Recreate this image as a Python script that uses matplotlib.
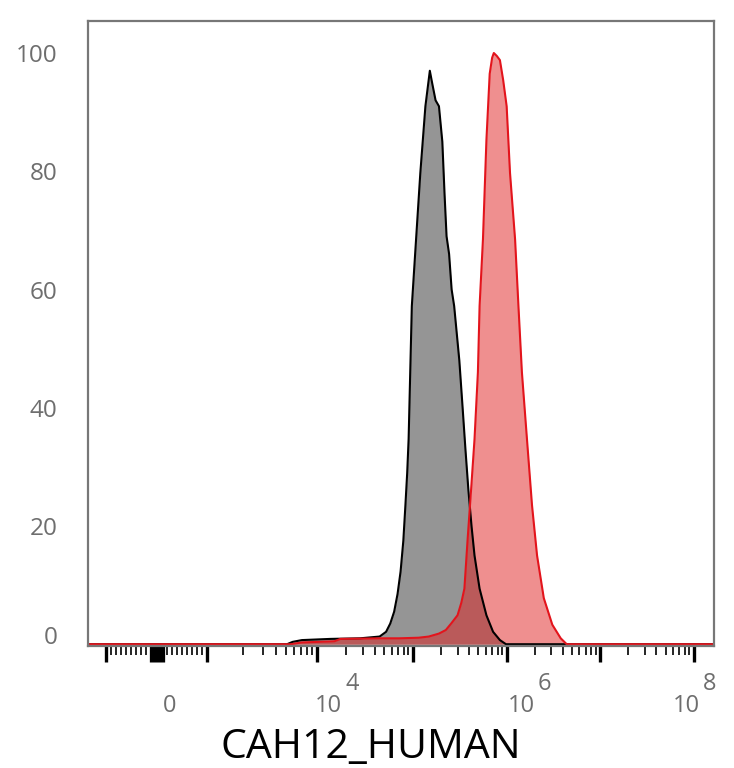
import numpy as np
import matplotlib
matplotlib.use("Agg")
import matplotlib.pyplot as plt
import matplotlib.transforms as mtransforms

plt.rcParams["font.family"] = ["Open Sans", "DejaVu Sans"]

# histogram data: log10(channel) and % of max
grey_log = [3.706, 3.761, 3.852, 4.140, 4.446, 4.650, 4.718, 4.762, 4.803, 4.839,
            4.871, 4.900, 4.922, 4.941, 4.956, 4.973, 4.990, 5.035, 5.080, 5.134,
            5.181, 5.206, 5.242, 5.278, 5.314, 5.338, 5.359, 5.386, 5.413, 5.440,
            5.495, 5.530, 5.560, 5.592, 5.625, 5.657, 5.711, 5.784, 5.855, 5.928,
            5.993]
grey_pct = [0.0, 0.4, 0.7, 0.9, 1.0, 1.3, 2.1, 3.5, 5.5, 8.5,
            12.3, 17.5, 23.5, 29.0, 34.7, 46.0, 57.2, 68.5, 79.7, 91.0,
            97.0, 94.9, 92.0, 91.0, 85.0, 76.0, 69.0, 66.0, 60.0, 57.2,
            48.0, 40.0, 33.0, 26.0, 20.0, 15.0, 9.4, 4.9, 2.1, 0.7,
            0.0]

red_log = [3.743, 3.852, 4.181, 4.242, 4.650, 4.854, 5.062, 5.170, 5.278, 5.351,
           5.408, 5.476, 5.516, 5.549, 5.584, 5.621, 5.657, 5.693, 5.711, 5.747,
           5.784, 5.819, 5.845, 5.863, 5.895, 5.928, 5.963, 6.000, 6.036, 6.090,
           6.126, 6.163, 6.217, 6.271, 6.325, 6.397, 6.488, 6.578, 6.642]
red_pct = [0.0, 0.3, 0.5, 0.9, 1.0, 1.0, 1.1, 1.3, 1.8, 2.4,
           3.5, 4.9, 7.0, 9.4, 17.9, 26.3, 34.7, 46.0, 57.2, 68.5,
           85.3, 96.5, 99.2, 100.0, 99.5, 98.8, 95.4, 91.0, 79.7, 68.5,
           57.2, 46.0, 34.7, 23.5, 15.0, 7.8, 3.3, 1.0, 0.0]

y_ticks = [0, 20, 40, 60, 80, 100]
x_major = [-1e3, 0, 1e3, 1e4, 1e5, 1e6, 1e7, 1e8]
x_labels = [(0, "0", ""), (1e4, "10", "4"), (1e6, "10", "6"), (1e8, "10", "8")]
x_title = "CAH12_HUMAN"

X_MIN, X_MAX = -1400, 1.65e8

# biexponential-like axis: linear around 0, log above 10^3
LIN_T = 1e3
LIN_W = 50.3
DEC_W = 93.5
BEND_W = 19.5
BEND_K = 0.8


def biex_forward(x):
    x = np.asarray(x, dtype=float)
    a = np.abs(x)
    r = np.maximum(a, LIN_T) / LIN_T
    logpart = LIN_W + DEC_W * np.log10(r) + BEND_W * (1 - r ** -BEND_K)
    out = np.where(a <= LIN_T, a / LIN_T * LIN_W, logpart)
    return np.sign(x) * out


_grid = np.unique(np.concatenate([-np.logspace(3, 10, 3000),
                                  np.linspace(-1e3, 1e3, 2001),
                                  np.logspace(3, 10, 3000)]))
_grid_f = biex_forward(_grid)


def biex_inverse(y):
    return np.interp(np.asarray(y, dtype=float), _grid_f, _grid)


fig = plt.figure(figsize=(7.34, 7.68), dpi=100)
ax = fig.add_axes([88 / 734, 122 / 768, 626 / 734, 625.5 / 768])
ax.set_xscale("function", functions=(biex_forward, biex_inverse))

gx = np.concatenate([[X_MIN], 10 ** np.array(grey_log), [X_MAX]])
gy = np.concatenate([[0], grey_pct, [0]])
rx = np.concatenate([[X_MIN], 10 ** np.array(red_log), [X_MAX]])
ry = np.concatenate([[0], red_pct, [0]])

ax.fill_between(gx, gy, 0, color="#959595", lw=0)
ax.plot(gx, gy, color="black", lw=1.5, solid_joinstyle="round")
ax.fill_between(rx, ry, 0, color="#E02020", alpha=0.5, lw=0)
ax.plot(rx, ry, color="#E3141C", lw=1.5, solid_joinstyle="round")

ax.set_xlim(X_MIN, X_MAX)
ax.set_ylim(-0.3, 105.5)

for sp in ax.spines.values():
    sp.set_color("#777777")
    sp.set_linewidth(1.6)

# y axis: labels only
ax.set_yticks(y_ticks)
ax.tick_params(axis="y", length=0, pad=22, labelsize=17.5, labelcolor="#6e6e6e")
ax.get_yticklabels()[0].set_verticalalignment("baseline")

# x axis ticks
x_minor = [k * 100 for k in range(-9, 10) if k != 0]
x_minor += [m * 10 ** n for n in range(3, 8) for m in range(2, 10)]
ax.set_xticks(x_major, labels=[""] * len(x_major))
ax.set_xticks(x_minor, minor=True)
ax.tick_params(axis="x", which="major", length=11.5, width=2.4, color="black")
ax.tick_params(axis="x", which="minor", length=6.5, width=1.2, color="black")
ax.xaxis.get_major_ticks()[1].tick1line.set_markeredgewidth(11)

trans = mtransforms.blended_transform_factory(ax.transData, fig.transFigure)
offsets = {0: (6.0, 0), 1e4: (-1.5, 28.5), 1e6: (1.5, 31.0), 1e8: (-21.0, 9.5)}
for val, base, exp in x_labels:
    dx_b, dx_e = offsets[val]
    ax.text(val, 56 / 768, base, fontsize=17, color="#6e6e6e", ha="left", va="baseline",
            transform=mtransforms.offset_copy(trans, fig=fig, x=dx_b, units="dots"))
    if exp:
        ax.text(val, 78 / 768, exp, fontsize=17, color="#6e6e6e", ha="left", va="baseline",
                transform=mtransforms.offset_copy(trans, fig=fig, x=dx_e, units="dots"))

fig.text(371 / 734, 10 / 768, x_title, fontsize=29.5, ha="center", va="baseline")

fig.savefig("out.png", dpi=100)
